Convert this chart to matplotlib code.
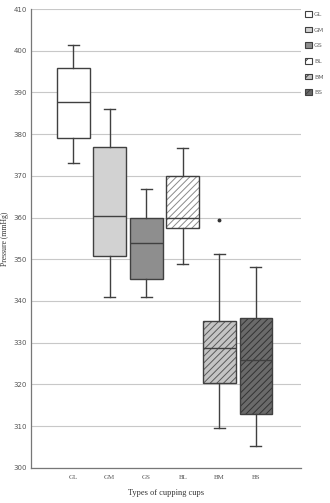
import matplotlib

matplotlib.use("Agg")
import matplotlib.pyplot as plt
from matplotlib.patches import Patch

# box statistics (mmHg)
groups = ["GL", "GM", "GS", "BL", "BM", "BS"]
whisker_low = [373.0, 341.0, 341.0, 348.8, 309.5, 305.2]
q1 = [379.0, 350.9, 345.3, 357.6, 320.4, 312.9]
medians = [387.7, 360.4, 354.0, 359.8, 328.7, 325.8]
q3 = [395.9, 376.9, 360.0, 369.9, 335.3, 336.0]
whisker_high = [401.4, 386.0, 366.8, 376.8, 351.2, 348.1]
outliers = [[], [], [], [], [359.4], []]

facecolors = ["white", "#d2d2d2", "#8e8e8e", "white", "#c4c4c4", "#6a6a6a"]
hatches = [None, None, None, "/////", "/////", "/////"]
hatch_colors = ["#404040", "#404040", "#404040", "#8a8a8a", "#5a5a5a", "#333333"]

yticks = list(range(300, 411, 10))

plt.rcParams["hatch.linewidth"] = 0.7

stats = []
for i, g in enumerate(groups):
    stats.append(
        {
            "label": g,
            "whislo": whisker_low[i],
            "q1": q1[i],
            "med": medians[i],
            "q3": q3[i],
            "whishi": whisker_high[i],
            "fliers": outliers[i],
        }
    )

fig = plt.figure(figsize=(3.30, 5.03), dpi=100)
ax = fig.add_axes([0.094, 0.07, 0.818, 0.912])

edge = "#404040"
bp = ax.bxp(
    stats,
    positions=range(1, 7),
    widths=0.9,
    patch_artist=True,
    showfliers=True,
    boxprops=dict(edgecolor=edge, linewidth=1.0),
    medianprops=dict(color=edge, linewidth=1.0),
    whiskerprops=dict(color=edge, linewidth=1.0),
    capprops=dict(color=edge, linewidth=1.0),
    capwidths=0.3,
    flierprops=dict(marker="o", markersize=1.8, markerfacecolor="#333333", markeredgecolor="#333333"),
    zorder=3,
)

for patch, fc, h, hc in zip(bp["boxes"], facecolors, hatches, hatch_colors):
    patch.set_facecolor(fc)
    if h:
        patch.set_hatch(h)
        patch._hatch_color = matplotlib.colors.to_rgba(hc)

ax.set_xlim(-0.15, 7.23)
ax.set_ylim(300, 410)
ax.set_yticks(yticks)
ax.set_yticklabels([str(t) for t in yticks], fontsize=5, color="#555555")
ax.set_xticks(range(1, 7))
ax.set_xticklabels(groups, fontsize=5, family="Liberation Serif", color="#555555")
ax.tick_params(axis="y", length=0, pad=3)
ax.tick_params(axis="x", length=0, pad=5)
ax.yaxis.grid(True, color="#c8c8c8", linewidth=0.8, zorder=0)
ax.set_axisbelow(True)
for side in ("top", "right"):
    ax.spines[side].set_visible(False)
for side in ("left", "bottom"):
    ax.spines[side].set_color("#777777")
    ax.spines[side].set_linewidth(0.9)

ax.set_ylabel("Pressure (mmHg)", fontsize=5.5, family="Liberation Serif", color="#333333", labelpad=3)
ax.set_xlabel("Types of cupping cups", fontsize=6, family="Liberation Serif", color="#333333", labelpad=7)

handles = []
for g, fc, h, hc in zip(groups, facecolors, hatches, hatch_colors):
    p = Patch(facecolor=fc, edgecolor=edge, hatch=h, linewidth=0.8, label=g)
    handles.append(p)
leg = ax.legend(
    handles=handles,
    loc="upper left",
    bbox_to_anchor=(1.0, 1.005),
    frameon=False,
    fontsize=4.5,
    handlelength=1.0,
    handleheight=1.0,
    handletextpad=0.4,
    labelspacing=1.55,
    borderaxespad=0.3,
    labelcolor="#666666",
)
for p, h in zip(leg.get_patches(), hatches):
    if h:
        p.set_hatch("//")

fig.savefig("out.png", dpi=100)
